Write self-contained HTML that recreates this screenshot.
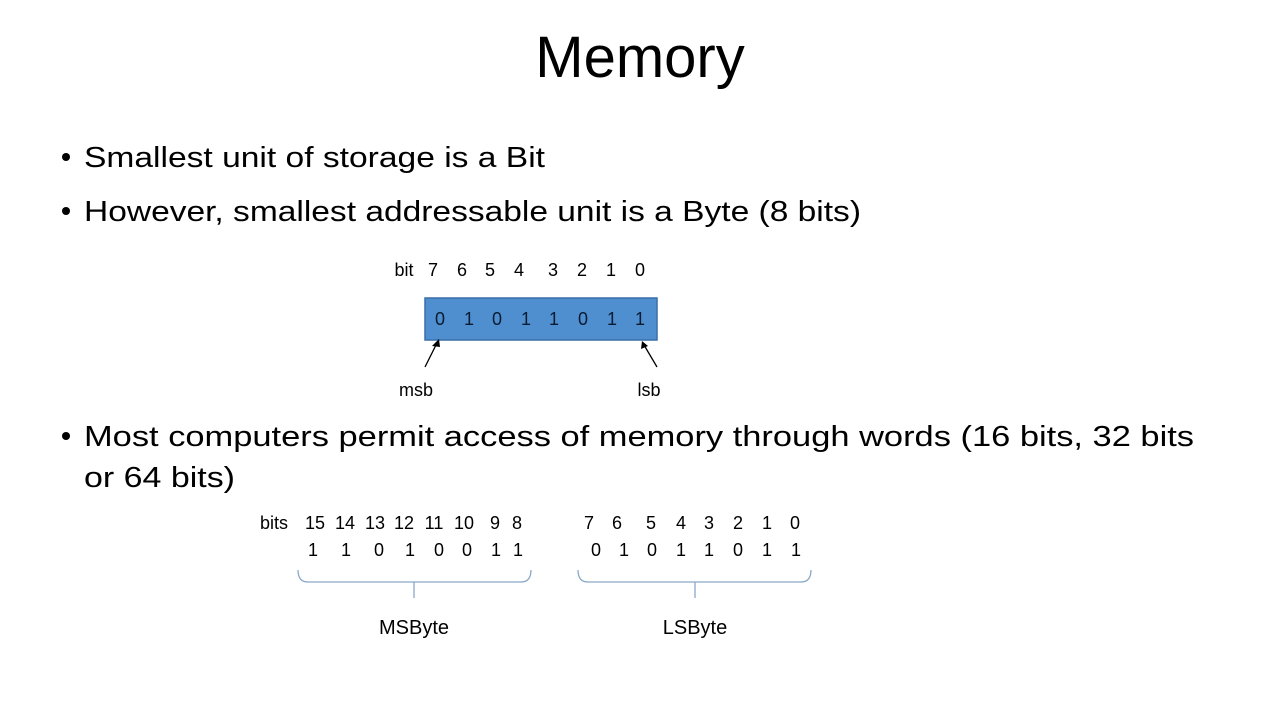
<!DOCTYPE html>
<html><head><style>body{margin:0;background:#fff}svg{display:block}</style></head><body>
<svg width="1280" height="720" viewBox="0 0 1280 720" xmlns="http://www.w3.org/2000/svg" font-family="Liberation Sans, sans-serif" fill="#000">
<rect width="1280" height="720" fill="#fff"/>
<text x="640" y="77" font-size="58" text-anchor="middle">Memory</text>
<g font-size="29">
<circle cx="66" cy="157" r="4"/><text x="84" y="167" textLength="461" lengthAdjust="spacingAndGlyphs">Smallest unit of storage is a Bit</text>
<circle cx="66" cy="211" r="4"/><text x="84" y="221" textLength="777" lengthAdjust="spacingAndGlyphs">However, smallest addressable unit is a Byte (8 bits)</text>
<circle cx="66" cy="436" r="4"/><text x="84" y="446" textLength="1110" lengthAdjust="spacingAndGlyphs">Most computers permit access of memory through words (16 bits, 32 bits</text>
<text x="84" y="487" textLength="151" lengthAdjust="spacingAndGlyphs">or 64 bits)</text>
</g>
<g font-size="18" text-anchor="middle">
<text x="404" y="276">bit</text>
<text x="433" y="276">7</text><text x="462" y="276">6</text><text x="490" y="276">5</text><text x="519" y="276">4</text><text x="553" y="276">3</text><text x="582" y="276">2</text><text x="611" y="276">1</text><text x="640" y="276">0</text>
</g>
<rect x="425" y="298" width="232" height="42" fill="#4f8fd0" stroke="#3a6fa8" stroke-width="1.5"/>
<g font-size="18" text-anchor="middle" fill="#0a1a30">
<text x="440" y="325">0</text><text x="469" y="325">1</text><text x="497" y="325">0</text><text x="526" y="325">1</text><text x="554" y="325">1</text><text x="583" y="325">0</text><text x="612" y="325">1</text><text x="640" y="325">1</text>
</g>
<g stroke="#000" stroke-width="1.3">
<line x1="425" y1="367" x2="437" y2="343"/><line x1="657" y1="367" x2="644" y2="345"/>
</g>
<polygon points="439,339 432,346 440,347"/>
<polygon points="642,341 641,349 648,346"/>
<g font-size="18" text-anchor="middle">
<text x="416" y="396">msb</text><text x="649" y="396">lsb</text>
<text x="274" y="529">bits</text>
<text x="315" y="529">15</text><text x="345" y="529">14</text><text x="375" y="529">13</text><text x="404" y="529">12</text><text x="434" y="529">11</text><text x="464" y="529">10</text><text x="495" y="529">9</text><text x="517" y="529">8</text>
<text x="313" y="556">1</text><text x="346" y="556">1</text><text x="379" y="556">0</text><text x="410" y="556">1</text><text x="439" y="556">0</text><text x="467" y="556">0</text><text x="496" y="556">1</text><text x="518" y="556">1</text>
<text x="589" y="529">7</text><text x="617" y="529">6</text><text x="651" y="529">5</text><text x="681" y="529">4</text><text x="709" y="529">3</text><text x="738" y="529">2</text><text x="767" y="529">1</text><text x="795" y="529">0</text>
<text x="596" y="556">0</text><text x="624" y="556">1</text><text x="652" y="556">0</text><text x="681" y="556">1</text><text x="709" y="556">1</text><text x="738" y="556">0</text><text x="767" y="556">1</text><text x="796" y="556">1</text>
<text x="414" y="634" font-size="20">MSByte</text><text x="695" y="634" font-size="20">LSByte</text>
</g>
<g fill="none" stroke="#8aa8c8" stroke-width="1.3">
<path d="M298,570 Q298,582 308,582 L521,582 Q531,582 531,570 M414,582 L414,598"/>
<path d="M578,570 Q578,582 588,582 L801,582 Q811,582 811,570 M695,582 L695,598"/>
</g>
</svg>
</body></html>
